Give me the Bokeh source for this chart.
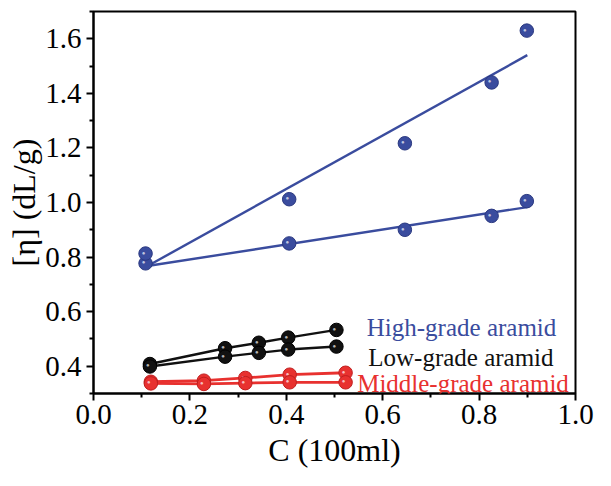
from bokeh.plotting import figure
from bokeh.models import Range1d, FixedTicker, Label, NumeralTickFormatter
from bokeh.embed import file_html
from bokeh.resources import INLINE

# ---- data ----
# High-grade aramid (blue): two point series + fitted lines
high_x = [0.108, 0.406, 0.646, 0.826, 0.899]
high_upper_y = [0.777, 1.012, 1.217, 1.440, 1.630]
high_lower_y = [0.813, 0.850, 0.900, 0.951, 1.005]
high_fit_x = [0.115, 0.900]
high_upper_fit = [0.770, 1.540]
high_lower_fit = [0.768, 0.983]

# Low-grade aramid (black)
low_x = [0.117, 0.273, 0.343, 0.404, 0.504]
low_upper_y = [0.408, 0.466, 0.486, 0.505, 0.533]
low_lower_y = [0.399, 0.435, 0.449, 0.461, 0.472]

# Middle-grade aramid (red)
mid_x = [0.119, 0.229, 0.315, 0.407, 0.523]
mid_upper_y = [0.343, 0.347, 0.357, 0.369, 0.376]
mid_lower_y = [0.337, 0.335, 0.338, 0.341, 0.341]

x_ticks = [0.0, 0.2, 0.4, 0.6, 0.8, 1.0]
x_minor = [0.1, 0.3, 0.5, 0.7, 0.9]
y_ticks = [0.4, 0.6, 0.8, 1.0, 1.2, 1.4, 1.6]
y_minor = [0.3, 0.5, 0.7, 0.9, 1.1, 1.3, 1.5, 1.7]

BLUE = "#3a4c9e"
BLACK = "#111111"
RED = "#e8312f"
FONT = "Liberation Serif"

p = figure(width=595, height=470, output_backend="svg", toolbar_location=None,
           x_range=Range1d(0.0, 1.0), y_range=Range1d(0.3, 1.7),
           min_border_left=93, min_border_top=11, min_border_right=20, min_border_bottom=74)
p.grid.visible = False
p.background_fill_color = "white"
p.border_fill_color = "white"
p.outline_line_color = "black"
p.outline_line_width = 2

for ax in (p.xaxis[0], p.yaxis[0]):
    ax.axis_line_width = 2
    ax.axis_line_color = "black"
    ax.major_tick_line_width = 2
    ax.minor_tick_line_width = 2
    ax.major_tick_in = 0
    ax.major_tick_out = 7
    ax.minor_tick_in = 0
    ax.minor_tick_out = 4
    ax.major_label_text_font = FONT
    ax.major_label_text_font_size = "29px"
    ax.major_label_text_color = "black"
    ax.axis_label_text_font = FONT
    ax.axis_label_text_font_size = "32px"
    ax.axis_label_text_font_style = "normal"
    ax.axis_label_text_color = "black"
    ax.formatter = NumeralTickFormatter(format="0.0")

p.xaxis.ticker = FixedTicker(ticks=x_ticks, minor_ticks=x_minor)
p.yaxis.ticker = FixedTicker(ticks=y_ticks, minor_ticks=y_minor)
p.yaxis.axis_label = "[η] (dL/g)"
p.yaxis.major_label_standoff = 5
p.yaxis.axis_label_standoff = 0
p.xaxis.axis_label = "C (100ml)"
p.xaxis.major_label_standoff = 4
p.xaxis.axis_label_standoff = 5

# fitted blue lines
p.line(high_fit_x, high_upper_fit, line_color=BLUE, line_width=2.4)
p.line(high_fit_x, high_lower_fit, line_color=BLUE, line_width=2.4)

# connected black and red series
p.line(low_x, low_upper_y, line_color=BLACK, line_width=2.4)
p.line(low_x, low_lower_y, line_color=BLACK, line_width=2.4)
p.line(mid_x, mid_upper_y, line_color=RED, line_width=2.8)
p.line(mid_x, mid_lower_y, line_color=RED, line_width=2.8)

def balls(xs, ys, color, edge):
    p.scatter(xs, ys, size=13.5, fill_color=color, line_color=edge, line_width=1)
    p.text(xs, ys, text=["●"] * len(xs), text_font_size="6px", text_color="white",
           text_alpha=0.7, x_offset=-2, y_offset=-1, text_align="center",
           text_baseline="middle")

balls(high_x, high_upper_y, BLUE, "#2a3880")
balls(high_x, high_lower_y, BLUE, "#2a3880")
balls(low_x, low_upper_y, BLACK, "#000000")
balls(low_x, low_lower_y, BLACK, "#000000")
balls(mid_x, mid_upper_y, RED, "#c01e1e")
balls(mid_x, mid_lower_y, RED, "#c01e1e")

# legend-like labels
legend_items = [("High-grade aramid", BLUE, 0.567, 0.543),
                ("Low-grade aramid", BLACK, 0.570, 0.431),
                ("Middle-grade aramid", RED, 0.547, 0.335)]
for txt, col, lx, ly in legend_items:
    p.add_layout(Label(x=lx, y=ly, text=txt, text_color=col, text_font=FONT,
                       text_font_size="25px", text_baseline="alphabetic"))

open("out.html", "w").write(file_html(p, INLINE))
